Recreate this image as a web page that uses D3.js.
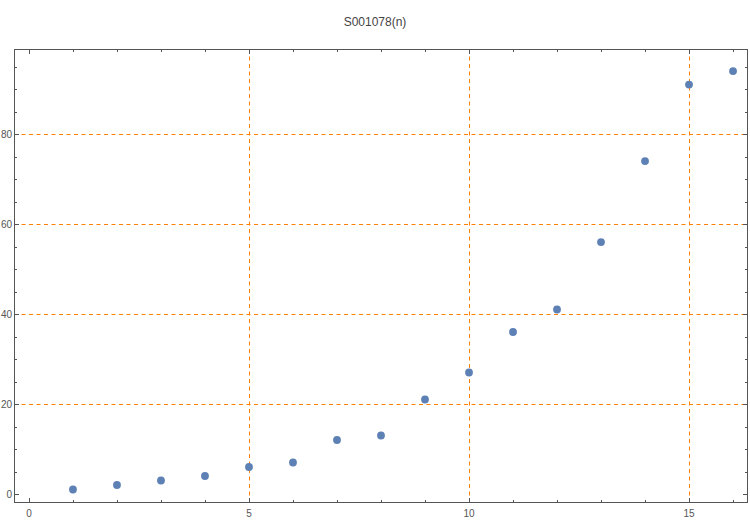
<!DOCTYPE html>
<html>
<head>
<meta charset="utf-8">
<script src="https://cdn.jsdelivr.net/npm/d3@7"></script>
<style>
html,body{margin:0;padding:0;background:#fff;}
text{font-family:"Liberation Sans",Arial,sans-serif;}
</style>
</head>
<body>
<svg id="chart" width="750" height="520"></svg>
<script>
const title = "S001078(n)";
const nValues = [1,2,3,4,5,6,7,8,9,10,11,12,13,14,15,16];
const sValues = [1,2,3,4,6,7,12,13,21,27,36,41,56,74,91,94];
const xTickLabels = [0,5,10,15];
const yTickLabels = [0,20,40,60,80];
const xGrid = [5,10,15];
const yGrid = [20,40,60,80];

const svg = d3.select("#chart");
const pLeft = 14, pRight = 748, pTop = 49, pBottom = 503;
const x = d3.scaleLinear().domain([-0.34, 16.34]).range([pLeft, pRight]);
const y = d3.scaleLinear().domain([-2, 98.9]).range([pBottom, pTop]);

const axisColor = "#555";
const gridColor = "#ff8000";

// title
svg.append("text").attr("x", 375).attr("y", 26).attr("text-anchor", "middle")
  .attr("font-size", 12).attr("fill", "#444").text(title);

// grid
const g = svg.append("g");
g.selectAll("line.gx").data(xGrid).enter().append("line")
  .attr("x1", d => Math.round(x(d)) + 0.5).attr("x2", d => Math.round(x(d)) + 0.5)
  .attr("y1", pTop).attr("y2", pBottom)
  .attr("stroke", gridColor).attr("stroke-width", 1).attr("stroke-dasharray", "4,3.5");
g.selectAll("line.gy").data(yGrid).enter().append("line")
  .attr("y1", d => Math.round(y(d)) + 0.5).attr("y2", d => Math.round(y(d)) + 0.5)
  .attr("x1", pLeft).attr("x2", pRight)
  .attr("stroke", gridColor).attr("stroke-width", 1).attr("stroke-dasharray", "4,3.5");

// frame
svg.append("rect").attr("x", pLeft + 0.5).attr("y", pTop + 0.5)
  .attr("width", pRight - pLeft - 1).attr("height", pBottom - pTop - 1)
  .attr("fill", "none").attr("stroke", axisColor).attr("stroke-width", 1);

// ticks
const xMinor = d3.range(0, 17, 1);
const yMinor = d3.range(0, 100, 5);
function tickLenX(d){ return d % 5 === 0 ? 5 : 3; }
function tickLenY(d){ return d % 20 === 0 ? 5 : 3; }
const t = svg.append("g").attr("stroke", axisColor).attr("stroke-width", 1);
xMinor.forEach(d => {
  const px = Math.round(x(d)) + 0.5;
  t.append("line").attr("x1", px).attr("x2", px).attr("y1", pBottom).attr("y2", pBottom - tickLenX(d));
  t.append("line").attr("x1", px).attr("x2", px).attr("y1", pTop).attr("y2", pTop + tickLenX(d));
});
yMinor.forEach(d => {
  const py = Math.round(y(d)) + 0.5;
  t.append("line").attr("y1", py).attr("y2", py).attr("x1", pLeft).attr("x2", pLeft + tickLenY(d));
  t.append("line").attr("y1", py).attr("y2", py).attr("x1", pRight).attr("x2", pRight - tickLenY(d));
});

// tick labels
svg.selectAll("text.xl").data(xTickLabels).enter().append("text")
  .attr("x", d => x(d)).attr("y", pBottom + 14).attr("text-anchor", "middle")
  .attr("font-size", 10).attr("fill", "#555").text(d => d);
svg.selectAll("text.yl").data(yTickLabels).enter().append("text")
  .attr("x", pLeft - 2).attr("y", d => y(d) + 3.5).attr("text-anchor", "end")
  .attr("font-size", 10).attr("fill", "#555").text(d => d);

// points
svg.selectAll("circle.pt").data(nValues.map((n, i) => [n, sValues[i]])).enter().append("circle")
  .attr("cx", d => x(d[0])).attr("cy", d => y(d[1])).attr("r", 3.9)
  .attr("fill", "#5E81B5");
</script>
</body>
</html>
